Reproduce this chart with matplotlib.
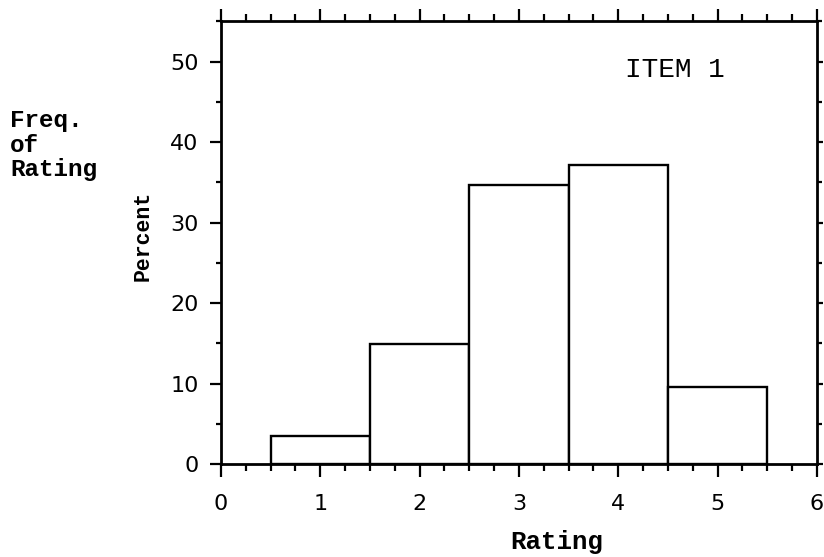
import matplotlib.pyplot as plt
from matplotlib.ticker import MultipleLocator

# rating distribution for item 1 (percent of respondents)
ratings = [1, 2, 3, 4, 5]
percent = [3.5, 14.9, 34.7, 37.2, 9.6]
x_ticks = [0, 1, 2, 3, 4, 5, 6]
y_ticks = [0, 10, 20, 30, 40, 50]
item_title = 'ITEM 1'

mono = 'Liberation Mono'
sans = 'DejaVu Sans'

fig = plt.figure(figsize=(8.24, 5.57), dpi=100)
ax = fig.add_axes([0.268, 0.167, 0.7235, 0.796])

ax.bar(ratings, percent, width=1.0, color='white', edgecolor='black', linewidth=1.7, zorder=2)

ax.set_xlim(0, 6)
ax.set_ylim(0, 55.1)

# ticks on all four sides, pointing outward
ax.xaxis.set_minor_locator(MultipleLocator(0.25))
ax.yaxis.set_minor_locator(MultipleLocator(5))
ax.set_xticks(x_ticks)
ax.set_yticks(y_ticks)
ax.tick_params(axis='x', which='major', direction='out', length=9.4, width=1.6,
               top=True, labelsize=16, pad=12)
ax.tick_params(axis='x', which='minor', direction='out', length=5, width=1.6, top=True)
ax.tick_params(axis='y', which='major', direction='out', length=8, width=1.6,
               right=True, labelsize=16, pad=8)
ax.tick_params(axis='y', which='minor', direction='out', length=3.6, width=1.6, right=True)
for t in ax.xaxis.get_major_ticks():
    t.tick2line.set_markersize(8.6)
for t in ax.yaxis.get_major_ticks():
    t.tick2line.set_markersize(4)
for lbl in ax.get_xticklabels() + ax.get_yticklabels():
    lbl.set_family(sans)
    lbl.set_weight('medium')

for s in ax.spines.values():
    s.set_linewidth(2)

ax.set_xlabel('Rating', family=mono, weight='bold', fontsize=18.5, va='top')
ax.xaxis.set_label_coords(0.564, -0.150)
ax.set_ylabel('Percent', family=mono, weight='bold', fontsize=15.5, va='center')
ax.yaxis.set_label_coords(-0.131, 0.514)

ax.text(4.57, 48.9, item_title, family=mono, fontsize=20, ha='center', va='center')

fig.text(10 / 824, 1 - 145 / 557, 'Freq.\nof\nRating', family=mono, weight='bold',
         fontsize=17.5, ha='left', va='center', linespacing=1.1)

fig.savefig('out.png', dpi=100)
